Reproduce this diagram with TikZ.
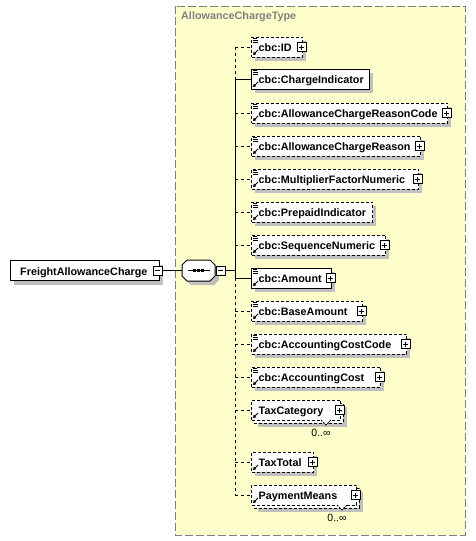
\documentclass[tikz,border=0pt]{standalone}
\usepackage{fontspec}
\setmainfont{Liberation Sans}
\usetikzlibrary{arrows.meta}
\definecolor{bgyellow}{RGB}{255,255,204}
\definecolor{shadowgray}{RGB}{192,192,192}
\definecolor{bordergray}{RGB}{128,128,128}
\definecolor{titlegray}{RGB}{128,128,128}
\tikzset{
  every node/.style={font=\bfseries\fontsize{10.8}{12}\selectfont},
  elbox/.style={draw=black, fill=white, line width=1pt, minimum height=20pt, inner sep=0pt, anchor=west},
  optb/.style={dash pattern=on 3pt off 2pt},
  reqb/.style={solid},
  conn/.style={line width=1pt},
  optc/.style={dash pattern=on 3pt off 3pt},
  pm/.style={draw=black, fill=white, line width=0.8pt, minimum size=9pt, inner sep=0pt},
  lbl/.style={anchor=base west, inner sep=0pt},
  occ/.style={font=\fontsize{10.5}{12}\selectfont, inner sep=0pt},
}
% #1 name, #2 label, #3 cy, #4 right, #5 border style, #6 plus, #7 icon, #8 multi
\newcommand\xelem[8]{%
  \pgfmathsetmacro\xw{#4-251}%
  \ifnum#8=1
    \fill[shadowgray] (258,#3-3) rectangle (#4+7,#3+17);
    \draw[line width=1pt,#5,fill=white] (254,#3-7) rectangle (#4+3,#3+13);
  \else
    \fill[shadowgray] (255,#3-6) rectangle (#4+4,#3+14);
  \fi
  \node[elbox,#5,minimum width=\xw pt] (#1) at (251,#3) {};
  \node[lbl] (#1-t) at (258.5,#3+4) {#2};
  \ifnum#6=1
    \node[pm] (#1-p) at (#4-0.5,#3) {};
    \draw[line width=0.8pt] ([xshift=-2.5pt]#1-p.center) -- ([xshift=2.5pt]#1-p.center);
    \draw[line width=0.8pt] ([yshift=-2.5pt]#1-p.center) -- ([yshift=2.5pt]#1-p.center);
  \fi
  \ifnum#7=1
    \draw[line width=0.8pt] (253,#3-8.5) -- (256.5,#3-8.5);
    \draw[line width=0.8pt] (253,#3-6.5) -- (258,#3-6.5);
    \draw[line width=0.8pt] (253,#3-4.5) -- (258,#3-4.5);
  \fi
  \draw[line width=0.9pt,-{Triangle[length=3pt,width=3.5pt]}] (258,#3+3) -- (253,#3+8);
  \ifnum#8=1
    \draw[line width=0.8pt,fill=white,dash pattern=on 2pt off 1pt] (#4-19,#3+10) -- (#4-14,#3+15) -- (#4-9,#3+10);
    \node[occ] (#1-o) at (#4-19,#3+23) {0..\char"221E};
  \fi
  \coordinate (j-#1) at (235,#3);
}
\begin{document}
\begin{tikzpicture}[x=1pt,y=-1pt]
\useasboundingbox (0,0) rectangle (475,541);
% outer type box
\draw[fill=bgyellow, draw=bordergray, line width=1pt, dash pattern=on 8pt off 3pt] (175,6) rectangle (465,535);
\node[anchor=base west, inner sep=0pt, text=titlegray] (title) at (181,19.5) {AllowanceChargeType};

% root
\fill[shadowgray] (14,264.5) rectangle (163,284.5);
\node[elbox, minimum width=149pt] (root) at (10,270.5) {};
\node[lbl] (root-t) at (20,275) {FreightAllowanceCharge};
\node[pm] (rootm) at (157.5,270.5) {};
\draw[line width=0.8pt] ([xshift=-2.5pt]rootm.center) -- ([xshift=2.5pt]rootm.center);

% sequence compositor
\fill[shadowgray] (186,264) -- (191,264) -- (214,264) -- (219,269) -- (219,280) -- (214,285) -- (191,285) -- (186,280) -- cycle;
\draw[line width=1pt, fill=white] (182,265) -- (187,260) -- (210,260) -- (215,265) -- (215,276) -- (210,281) -- (187,281) -- (182,276) -- cycle;
\node[minimum width=33pt, minimum height=21pt, inner sep=0pt] (seq) at (198.5,270.5) {};
\draw[line width=1pt] (188,270.5) -- (210,270.5);
\fill (192.5,269) rectangle (195.5,272);
\fill (196.5,269) rectangle (199.5,272);
\fill (200.5,269) rectangle (203.5,272);
\node[pm] (seqm) at (220.5,270.5) {};
\draw[line width=0.8pt] ([xshift=-2.5pt]seqm.center) -- ([xshift=2.5pt]seqm.center);
\draw[conn] (rootm.east) -- (seq.west);
\coordinate (j-mid) at (235,270.5);
\draw[conn] (seqm.east) -- (j-mid);

% elements
\xelem{id}{cbc:ID}{47}{302}{optb}{1}{1}{0}
\xelem{ci}{cbc:ChargeIndicator}{79}{369}{reqb}{0}{1}{0}
\xelem{acrc}{cbc:AllowanceChargeReasonCode}{113}{447}{optb}{1}{1}{0}
\xelem{acr}{cbc:AllowanceChargeReason}{146}{420}{optb}{1}{1}{0}
\xelem{mfn}{cbc:MultiplierFactorNumeric}{179}{418}{optb}{1}{1}{0}
\xelem{pi}{cbc:PrepaidIndicator}{212}{372}{optb}{0}{1}{0}
\xelem{sn}{cbc:SequenceNumeric}{245}{385}{optb}{1}{1}{0}
\xelem{amt}{cbc:Amount}{278}{331}{reqb}{1}{1}{0}
\xelem{ba}{cbc:BaseAmount}{311}{362}{optb}{1}{1}{0}
\xelem{acc}{cbc:AccountingCostCode}{344}{406}{optb}{1}{1}{0}
\xelem{ac}{cbc:AccountingCost}{377}{380}{optb}{1}{1}{0}
\xelem{tc}{TaxCategory}{410}{340}{optb}{1}{0}{1}
\xelem{tt}{TaxTotal}{462}{313}{optb}{1}{0}{0}
\xelem{pmn}{PaymentMeans}{495}{356}{optb}{1}{0}{1}

% connectors
\draw[conn,optc] (j-id) -- (j-ci);
\draw[conn] (j-ci) -- (j-amt);
\draw[conn,optc] (j-amt) -- (j-pmn);
\foreach \n in {id,acrc,acr,mfn,pi,sn,ba,acc,ac,tc,tt,pmn}{
  \draw[conn,optc] (j-\n) -- (\n.west);
}
\draw[conn] (j-ci) -- (ci.west);
\draw[conn] (j-amt) -- (amt.west);
\end{tikzpicture}
\end{document}
